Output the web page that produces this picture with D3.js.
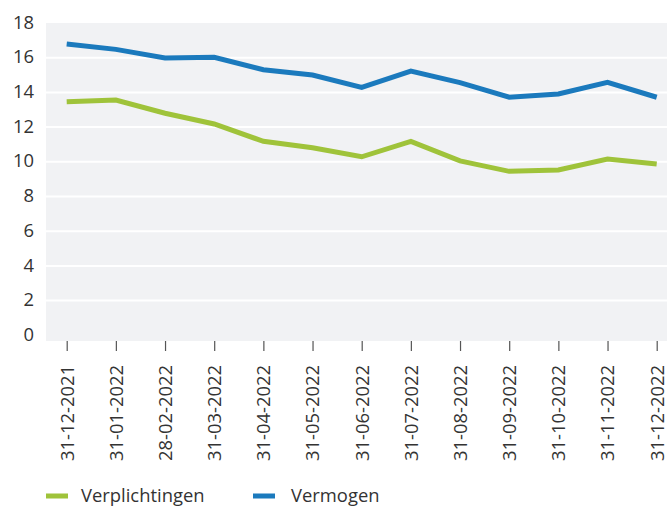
<!DOCTYPE html>
<html><head><meta charset="utf-8">
<script src="https://cdn.jsdelivr.net/npm/d3@7"></script>
<style>body{margin:0;background:#fff;}svg{display:block;font-family:"Open Sans",sans-serif;}</style>
</head><body>
<script>
const categories = ["31-12-2021","31-01-2022","28-02-2022","31-03-2022","31-04-2022","31-05-2022","31-06-2022","31-07-2022","31-08-2022","31-09-2022","31-10-2022","31-11-2022","31-12-2022"];
const verplichtingen = [13.46,13.56,12.8,12.18,11.18,10.81,10.29,11.18,10.05,9.45,9.53,10.16,9.87];
const vermogen = [16.79,16.48,15.98,16.02,15.31,15.0,14.29,15.23,14.56,13.72,13.91,14.58,13.72];
const yTicks = [0,2,4,6,8,10,12,14,16,18];
const seriesNames = ["Verplichtingen","Vermogen"];
const colors = ["#9fc33a","#1b7abd"];

const W = 667, H = 506, FS = 18.4;
const svg = d3.select("body").append("svg").attr("width",W).attr("height",H);
const x = d3.scalePoint().domain(categories).range([66.7,656.7]);
const y = d3.scaleLinear().domain([0,18]).range([335.3,23]);

svg.append("rect").attr("x",46).attr("y",y(18)).attr("width",W-46).attr("height",341-y(18)).attr("fill","#f1f2f4");

const grid = svg.append("g");
grid.selectAll("line").data(yTicks.filter(d=>d>0 && d<18)).join("line")
  .attr("x1",46).attr("x2",W).attr("y1",d=>y(d)).attr("y2",d=>y(d))
  .attr("stroke","#fff").attr("stroke-width",2);

const yAxis = svg.append("g").attr("transform","translate(34,0)")
  .call(d3.axisLeft(y).tickValues(yTicks).tickSize(0).tickPadding(0));
yAxis.select(".domain").remove();
yAxis.selectAll("text").attr("font-size",FS).attr("fill","#333").attr("font-family","Open Sans").attr("dy","0.28em");

const xAxis = svg.append("g").attr("transform","translate(0,341)")
  .call(d3.axisBottom(x).tickSize(10).tickPadding(0));
xAxis.select(".domain").remove();
xAxis.selectAll(".tick line").attr("stroke","#555").attr("stroke-width",1.2);
xAxis.selectAll("text").attr("font-size",FS).attr("fill","#333").attr("font-family","Open Sans")
  .attr("text-anchor","end").attr("transform","rotate(-90)")
  .attr("x",-24).attr("y",0).attr("dy","0.35em");

const line = d3.line().x((d,i)=>x(categories[i])).y(d=>y(d));
[verplichtingen, vermogen].forEach((s,k)=>{
  svg.append("path").datum(s).attr("d",line).attr("fill","none")
    .attr("stroke",colors[k]).attr("stroke-width",5).attr("stroke-linejoin","miter");
});

const legX = [46,253];
seriesNames.forEach((n,k)=>{
  const g = svg.append("g").attr("transform",`translate(${legX[k]},496)`);
  g.append("rect").attr("x",0).attr("y",-2.5).attr("width",22).attr("height",5).attr("fill",colors[k]);
  g.append("text").attr("x",k===0?35:38).attr("y",0).attr("dy","0.35em").attr("font-size",FS)
    .attr("fill","#333").attr("font-family","Open Sans").text(n);
});
</script>
</body></html>
